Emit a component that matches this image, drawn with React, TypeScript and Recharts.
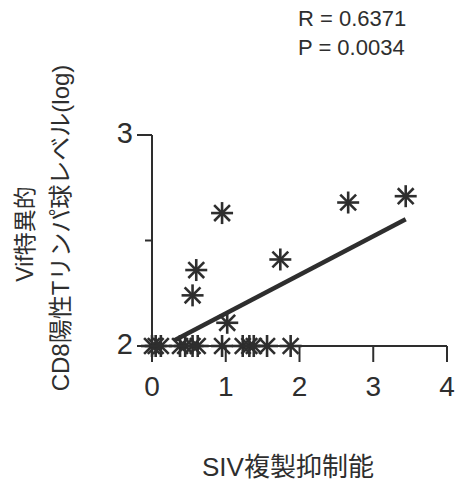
import React from 'react';
import { ScatterChart, Scatter, XAxis, YAxis, ReferenceLine } from 'recharts';

// SIV replication suppression vs Vif-specific CD8 T cell level (log)
const suppression = [0, 0.05, 0.12, 0.38, 0.45, 0.55, 0.62, 0.95, 1.23, 1.32, 1.38, 1.56, 1.88, 0.95, 2.66, 3.44, 1.74, 0.6, 0.55, 1.02];
const cd8Level = [2, 2, 2, 2, 2, 2, 2, 2, 2, 2, 2, 2, 2, 2.63, 2.68, 2.71, 2.41, 2.36, 2.24, 2.11];
const xTicks = [0, 1, 2, 3, 4];
const yTicks = [2, 2.5, 3];
const fitStart = 0.3;
const fitEnd = 3.44;
const fitSlope = 0.183;
const fitIntercept = 1.971;
const statLines = ['R = 0.6371', 'P = 0.0034'];

const points = suppression.map((x, i) => ({ x, y: cd8Level[i] }));

const ink = '#2e2e2e';
const latin = '"Liberation Sans", Arial, sans-serif';
const cjk = '"Liberation Sans", "Noto Sans CJK JP", sans-serif';

const Star = (props: any) => {
  const { cx, cy } = props;
  const r = 11;
  const d = r * 0.72;
  return (
    <g stroke={ink} strokeWidth={2.6}>
      <line x1={cx - r} y1={cy} x2={cx + r} y2={cy} />
      <line x1={cx} y1={cy - r} x2={cx} y2={cy + r} />
      <line x1={cx - d} y1={cy - d} x2={cx + d} y2={cy + d} />
      <line x1={cx - d} y1={cy + d} x2={cx + d} y2={cy - d} />
    </g>
  );
};

// y ticks: labelled major ticks are longer, the 2.5 tick is a short unlabelled one
const YTick = (props: any) => {
  const { x, y, payload } = props;
  const major = payload.value !== 2.5;
  return (
    <g>
      <line x1={x - (major ? 15 : 7)} y1={y} x2={x} y2={y} stroke={ink} strokeWidth={2} />
      {major && (
        <text x={x - 19} y={y + 8} textAnchor="end" fontSize={29} fill={ink} fontFamily={latin}>
          {payload.value}
        </text>
      )}
    </g>
  );
};

export default function App() {
  return (
    <div style={{ position: 'absolute', left: 0, top: 0, width: 459, height: 487, background: '#fff' }}>
      <ScatterChart width={459} height={487} margin={{ top: 135, right: 12, bottom: 91, left: 92 }}>
        <XAxis
          type="number"
          dataKey="x"
          domain={[0, 4]}
          ticks={xTicks}
          height={50}
          axisLine={{ stroke: ink, strokeWidth: 2 }}
          tickLine={{ stroke: ink, strokeWidth: 2 }}
          tickSize={16}
          tickMargin={14}
          tick={{ fill: ink, fontSize: 28, fontFamily: latin }}
        />
        <YAxis
          type="number"
          dataKey="y"
          domain={[2, 3]}
          ticks={yTicks}
          width={60}
          axisLine={{ stroke: ink, strokeWidth: 2 }}
          tickLine={false}
          tickSize={0}
          tickMargin={0}
          tick={<YTick />}
        />
        <ReferenceLine
          segment={[
            { x: fitStart, y: fitIntercept + fitSlope * fitStart },
            { x: fitEnd, y: fitIntercept + fitSlope * fitEnd },
          ]}
          stroke={ink}
          strokeWidth={4.5}
          ifOverflow="visible"
        />
        <Scatter data={points} shape={Star} isAnimationActive={false} />
      </ScatterChart>
      <svg width={459} height={487} style={{ position: 'absolute', left: 0, top: 0, pointerEvents: 'none' }}>
        {statLines.map((s, i) => (
          <text key={s} x={298} y={26 + i * 29} fontSize={22} fill={ink} fontFamily={latin}>
            {s}
          </text>
        ))}
        <text x={288} y={476} fontSize={26} fill={ink} fontFamily={cjk} textAnchor="middle">
          SIV複製抑制能
        </text>
        <text transform="translate(33, 234) rotate(-90)" fontSize={23} fill={ink} fontFamily={cjk} textAnchor="middle">
          Vif特異的
        </text>
        <text transform="translate(69, 228) rotate(-90)" fontSize={24} fill={ink} fontFamily={cjk} textAnchor="middle">
          CD8陽性Tリンパ球レベル(log)
        </text>
      </svg>
    </div>
  );
}
